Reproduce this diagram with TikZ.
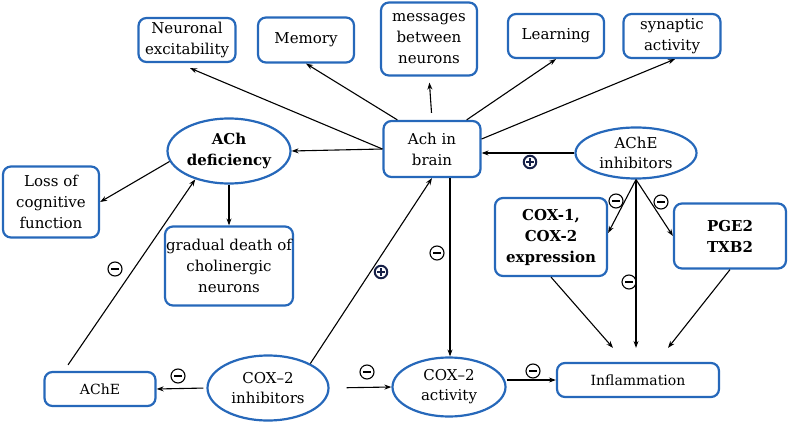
\documentclass[tikz,border=0pt]{standalone}
\usepackage{fontspec}
\setmainfont{DejaVu Serif}
\usetikzlibrary{shapes.geometric,arrows.meta}
\definecolor{boxblue}{RGB}{38,104,186}
\definecolor{signnavy}{RGB}{22,32,72}

\begin{document}
\begin{tikzpicture}[x=1pt,y=-1pt,
    box/.style={draw=boxblue,line width=2.2pt,rounded corners=8pt,align=center,inner sep=1pt,font=\fontsize{15}{21}\selectfont},
    oval/.style={ellipse,draw=boxblue,line width=2.2pt,align=center,inner sep=0pt,font=\fontsize{15}{20}\selectfont},
    bold/.style={font=\fontsize{15}{21}\selectfont\bfseries},
    small/.style={font=\fontsize{14}{19}\selectfont},
    arr/.style={-{Stealth[length=7pt,width=5pt]},line width=1.1pt},
    minussign/.style={circle,draw,line width=1.1pt,minimum size=14pt,inner sep=0pt,
        path picture={\draw[line width=2pt] ([xshift=-3.8pt]path picture bounding box.center) -- ([xshift=3.8pt]path picture bounding box.center);}},
    plussign/.style={circle,draw=signnavy,line width=2pt,minimum size=12.5pt,inner sep=0pt,
        path picture={\draw[signnavy,line width=2pt] ([xshift=-3.6pt]path picture bounding box.center) -- ([xshift=3.6pt]path picture bounding box.center)
            ([yshift=-3.6pt]path picture bounding box.center) -- ([yshift=3.6pt]path picture bounding box.center);}}]
    \useasboundingbox (0,0) rectangle (789,422);

    \node[box,minimum width=97,minimum height=44] (neuro) at (187,40) {Neuronal\\excitability};
    \node[box,minimum width=96,minimum height=45] (memory) at (306,40) {Memory};
    \node[box,minimum width=96,minimum height=73] (msg) at (429,39) {messages\\between\\neurons};
    \node[box,minimum width=96,minimum height=44] (learn) at (556,36) {Learning};
    \node[box,minimum width=97,minimum height=44] (syn) at (672,36) {synaptic\\activity};

    \node[box,minimum width=97,minimum height=56] (ach) at (432,149) {Ach in\\brain};
    \node[oval,minimum width=121,minimum height=51] (inh) at (636,153) {AChE\\inhibitors};
    \node[oval,bold,minimum width=123,minimum height=65] (def) at (229,151) {ACh\\deficiency};

    \node[box,minimum width=96,minimum height=71] (loss) at (51,202) {Loss of\\cognitive\\function};
    \node[box,minimum width=127,minimum height=79] (death) at (229,266) {gradual death of\\cholinergic\\neurons};
    \node[box,bold,minimum width=112,minimum height=78] (cox) at (551,237) {COX-1,\\COX-2\\expression};
    \node[box,bold,minimum width=112,minimum height=65] (pge) at (730,236) {PGE2\\TXB2};

    \node[box,small,minimum width=111,minimum height=34] (ache) at (100,389) {AChE};
    \node[oval,minimum width=121,minimum height=65] (cinh) at (268,388) {COX--2\\inhibitors};
    \node[oval,minimum width=113,minimum height=59] (cact) at (449,387) {COX--2\\activity};
    \node[box,small,minimum width=162,minimum height=34] (infl) at (638,380) {Inflammation};

    \draw[arr] (ach.west) -- ([xshift=3pt,yshift=-5pt]neuro.south);
    \draw[arr] ([xshift=15pt]ach.north west) -- (memory.south);
    \draw[arr,shorten <=7pt,shorten >=6pt] (ach.north) -- (msg.south);
    \draw[arr] ([xshift=-15pt]ach.north east) -- (learn.south);
    \draw[arr] ([yshift=10pt]ach.east) -- ([xshift=3pt]syn.south);
    \draw[arr] (ach.west) -- (def.east);
    \draw[arr] (inh.west) -- (inh.west -| ach.east);

    \draw[arr] (def.190) -- (loss.east);
    \draw[arr] (def.south) -- (death.north);
    \draw[arr] ([xshift=-32pt,yshift=6pt]ache.north) -- (def.220);

    \draw[arr,shorten <=3pt] (cinh.west) -- (ache.east);
    \draw[arr] (cinh.30) -- (ach.south);
    \draw[arr] ([xshift=18pt]ach.south) -- ([xshift=1pt]cact.north);
    \draw[arr,shorten <=17pt] (cinh.east) -- (cact.west);
    \draw[arr] (cact.east |- infl.west) -- (infl.west);

    \draw[arr] (inh.south) -- ([yshift=4pt]cox.east);
    \draw[arr] (inh.south) -- (pge.west);
    \draw[arr,shorten >=14pt] (inh.south) -- (inh.south |- infl.north);
    \draw[arr] (cox.south) -- ([xshift=-25pt,yshift=14pt]infl.north);
    \draw[arr] (pge.south) -- ([xshift=30pt,yshift=14pt]infl.north);

    \foreach \x/\y [count=\i] in {115/269,178/376,437/253,367/372,533/371,616/201,661/202,629/282}
        \node[minussign] (minus\i) at (\x,\y) {};
    \foreach \x/\y [count=\i] in {530/162,381/272}
        \node[plussign] (plus\i) at (\x,\y) {};
\end{tikzpicture}
\end{document}
